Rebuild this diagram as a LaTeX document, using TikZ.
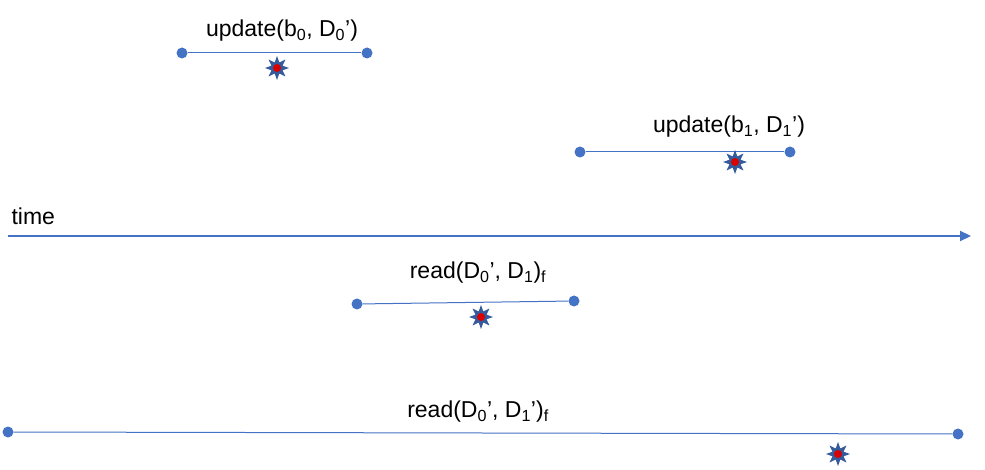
\documentclass[tikz,border=0pt]{standalone}
\usepackage{fontspec}
\setmainfont{Liberation Sans}
\usetikzlibrary{shapes.geometric,arrows.meta}
\definecolor{lineblue}{RGB}{68,114,196}
\newcommand{\sub}[1]{\textsubscript{#1}}
\begin{document}
\begin{tikzpicture}[x=1pt,y=-1pt,
    endpt/.style={circle,fill=lineblue,inner sep=0pt,minimum size=11pt},
    lp/.style={star,star points=8,star point ratio=2,fill=lineblue!80!black,
      inner sep=0pt,minimum size=24pt,
      path picture={\fill[red!85!black] (path picture bounding box.center) circle (4pt);}},
    lbl/.style={font=\fontsize{23}{26}\selectfont}
  ]
    \useasboundingbox (0,0) rectangle (985,470);

    % time axis
    \coordinate (t0) at (8,236);
    \coordinate (t1) at (971,236);
    \draw[lineblue,line width=2.2pt,-{Triangle[length=11pt,width=10pt]}] (t0) -- (t1);
    \node[lbl,anchor=west] (time) at (8,216) {time};

    % operations: start/end/star/label
    \foreach \n/\xa/\ya/\xb/\yb/\xs/\ys in {
        u0/182/53/367/53/277/68,
        u1/580/152/790/152/735/162,
        r0/357/304/574/301/481/317,
        r1/8/432/958/434/838/454} {
      \node[endpt] (\n a) at (\xa,\ya) {};
      \node[endpt] (\n b) at (\xb,\yb) {};
      \draw[lineblue,line width=1pt] (\n a) -- (\n b);
      \node[lp] (\n s) at (\xs,\ys) {};
    }

    % labels
    \node[lbl] (u0l) at (282,31) {update(b\sub{0}, D\sub{0}’)};
    \node[lbl] (u1l) at (729,127) {update(b\sub{1}, D\sub{1}’)};
    \node[lbl] (r0l) at (478,273) {read(D\sub{0}’, D\sub{1})\sub{f}};
    \node[lbl] (r1l) at (478,412) {read(D\sub{0}’, D\sub{1}’)\sub{f}};

  \end{tikzpicture}
\end{document}
